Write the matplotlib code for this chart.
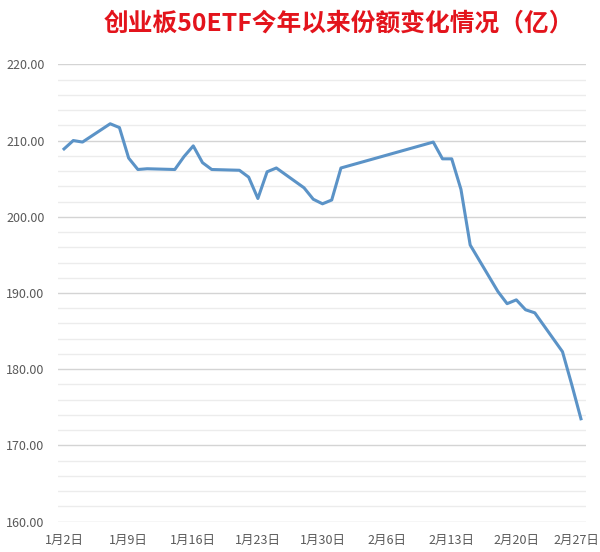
import matplotlib
matplotlib.use('Agg')
import matplotlib.pyplot as plt
import matplotlib.dates as mdates
import matplotlib.transforms as mtransforms
from matplotlib.ticker import MultipleLocator, FuncFormatter
import datetime as dt

plt.rcParams['font.family'] = ['Noto Sans CJK SC', 'DejaVu Sans']

title = "创业板50ETF今年以来份额变化情况（亿）"

dates = ["2019-01-02", "2019-01-03", "2019-01-04", "2019-01-07", "2019-01-08",
         "2019-01-09", "2019-01-10", "2019-01-11", "2019-01-14", "2019-01-15",
         "2019-01-16", "2019-01-17", "2019-01-18", "2019-01-21", "2019-01-22",
         "2019-01-23", "2019-01-24", "2019-01-25", "2019-01-28", "2019-01-29",
         "2019-01-30", "2019-01-31", "2019-02-01", "2019-02-11", "2019-02-12",
         "2019-02-13", "2019-02-14", "2019-02-15", "2019-02-18", "2019-02-19",
         "2019-02-20", "2019-02-21", "2019-02-22", "2019-02-25", "2019-02-26",
         "2019-02-27"]
shares = [208.9, 210.0, 209.8, 212.2, 211.7,
          207.7, 206.2, 206.3, 206.2, 207.9,
          209.3, 207.1, 206.2, 206.1, 205.2,
          202.4, 205.9, 206.4, 203.8, 202.3,
          201.7, 202.2, 206.4, 209.8, 207.6,
          207.6, 203.6, 196.3, 190.2, 188.6,
          189.1, 187.8, 187.4, 182.3, 178.0,
          173.5]
tick_dates = ["2019-01-02", "2019-01-09", "2019-01-16", "2019-01-23", "2019-01-30",
              "2019-02-06", "2019-02-13", "2019-02-20", "2019-02-27"]
y_min, y_max = 160, 220

x = [dt.datetime.strptime(d, "%Y-%m-%d") for d in dates]
xt = [dt.datetime.strptime(d, "%Y-%m-%d") for d in tick_dates]

fig = plt.figure(figsize=(6.0, 5.52), dpi=100)
ax = fig.add_axes([0.0972, 0.0549, 0.8795, 0.8286])

ax.plot(x, shares, color='#5b93c7', lw=2.2, solid_joinstyle='round', zorder=3)

ax.set_xlim(x[0] - dt.timedelta(days=0.62), x[-1] + dt.timedelta(days=0.55))
ax.set_ylim(y_min, y_max)

ax.set_xticks(xt)
ax.xaxis.set_major_formatter(FuncFormatter(
    lambda v, p: "{}月{}日".format(mdates.num2date(v).month, mdates.num2date(v).day)))
ax.yaxis.set_major_locator(MultipleLocator(10))
ax.yaxis.set_minor_locator(MultipleLocator(2))
ax.yaxis.set_major_formatter(FuncFormatter(lambda v, p: "{:.2f}".format(v)))

ax.grid(axis='y', which='major', color='#d4d4d4', lw=1.0, zorder=0)
ax.grid(axis='y', which='minor', color='#ececec', lw=1.0, zorder=0)
ax.grid(axis='x', visible=False)
for s in ax.spines.values():
    s.set_visible(False)
ax.tick_params(axis='both', which='both', length=0)
ax.tick_params(axis='y', pad=10, labelsize=9, labelcolor='#595959')
ax.tick_params(axis='x', pad=9, labelsize=9, labelcolor='#595959')

# nudge the last x label slightly left so it stays inside the figure
fig.canvas.draw()
last = ax.get_xticklabels()[-1]
last.set_transform(last.get_transform() +
                   mtransforms.ScaledTranslation(-3 / 72, 0, fig.dpi_scale_trans))

fig.text(0.565, 0.9565, title, ha='center', va='center', fontsize=17.8,
         fontweight='bold', color='#e3141c')

fig.savefig('out.png', dpi=100)
